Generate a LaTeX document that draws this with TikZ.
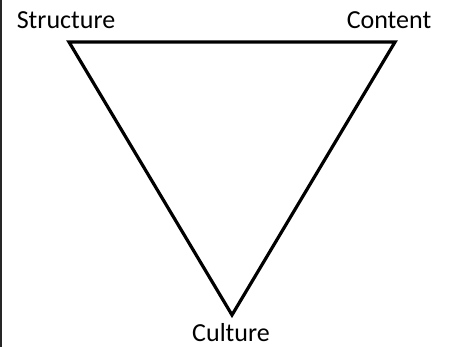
\documentclass[tikz,border=0pt]{standalone}
\usepackage{fontspec}
\setmainfont{Carlito}
\usetikzlibrary{positioning}
\tikzset{lbl/.style={font=\fontsize{26}{30}\selectfont, inner sep=0pt, anchor=base},
  edge/.style={line width=3.2pt, line join=miter}}

\begin{document}
\begin{tikzpicture}[x=1pt, y=1pt]
\useasboundingbox (0,0) rectangle (449,347);
% dark strip on the left edge
\draw[line width=2.2pt, black!85] (1.1,0) -- (1.1,347);
% corners of the triangle
\coordinate (S) at (69,305);
\coordinate (C) at (395,305);
\coordinate (U) at (232,32);
\draw[edge] (S) -- (C) -- (U) -- cycle;
% labels
\node[lbl] (struct) at (66,318) {Structure};
\node[lbl] (cont) at (389,318) {Content};
\node[lbl] (cult) at (231,5) {Culture};
\end{tikzpicture}
\end{document}
